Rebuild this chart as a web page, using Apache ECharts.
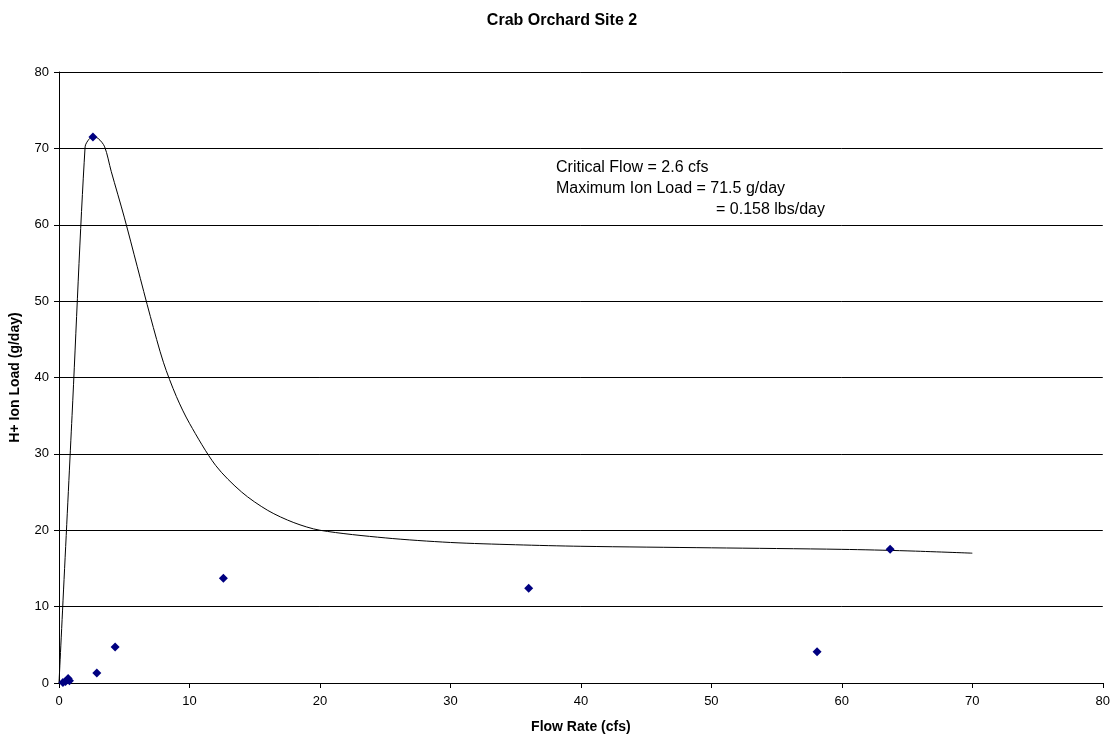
<!DOCTYPE html>
<html>
<head>
<meta charset="utf-8">
<title>Crab Orchard Site 2</title>
<script src="https://cdn.jsdelivr.net/npm/echarts@6/dist/echarts.min.js"></script>
<style>
  html, body { margin: 0; padding: 0; background: #fff; }
  #chart { width: 1113px; height: 740px; }
</style>
</head>
<body>
<div id="chart"></div>
<script>
// measured samples: [flow cfs, H+ ion load g/day]
const samples = [
  [0.3, 0.05], [0.5, 0.2], [0.7, 0.6], [0.8, 0.3],
  [2.6, 71.5], [2.9, 1.3], [4.3, 4.7], [12.6, 13.7],
  [36.0, 12.4], [58.1, 4.1], [63.7, 17.5]
];

// fitted curve
const curveX = [0, 1, 2, 2.3, 2.6, 3.0, 3.5, 4, 5, 6, 7, 8, 9, 10, 12, 14, 16, 18, 20, 25, 30, 35, 40, 50, 60, 65, 70];
const curveY = [0, 35, 70.2, 71.2, 71.5, 71.3, 70.2, 67, 61, 54.5, 48, 42, 37.5, 34, 28.5, 25, 22.6, 21, 20, 19, 18.4, 18.1, 17.9, 17.7, 17.5, 17.3, 17.0];

const noteLines = [
  "Critical Flow = 2.6 cfs",
  "Maximum Ion Load = 71.5 g/day",
  "= 0.158 lbs/day"
];

const chart = echarts.init(document.getElementById("chart"));
const font = "Liberation Sans, Arial, sans-serif";

chart.setOption({
  animation: false,
  title: {
    text: "Crab Orchard Site 2",
    left: 557,
    top: 8,
    textAlign: "center",
    textStyle: { fontFamily: font, fontSize: 16, fontWeight: "bold", color: "#000" }
  },
  grid: { left: 59, right: 8, top: 72, bottom: 57 },
  xAxis: {
    type: "value",
    min: 0,
    max: 80,
    interval: 10,
    name: "Flow Rate (cfs)",
    nameLocation: "middle",
    nameGap: 37,
    nameTextStyle: { fontFamily: font, fontSize: 14, fontWeight: "bold", color: "#000" },
    axisLine: { lineStyle: { color: "#000", width: 1 } },
    axisTick: { show: true, inside: false, length: 5, lineStyle: { color: "#000" } },
    axisLabel: { fontFamily: font, fontSize: 13, color: "#000", margin: 12 },
    splitLine: { show: false }
  },
  yAxis: {
    type: "value",
    min: 0,
    max: 80,
    interval: 10,
    name: "H+ Ion Load (g/day)",
    nameLocation: "middle",
    nameGap: 37,
    nameTextStyle: { fontFamily: font, fontSize: 14, fontWeight: "bold", color: "#000" },
    axisLine: { show: true, lineStyle: { color: "#000", width: 1 } },
    axisTick: { show: true, inside: false, length: 5, lineStyle: { color: "#000" } },
    axisLabel: { fontFamily: font, fontSize: 13, color: "#000", margin: 10 },
    splitLine: { show: true, lineStyle: { color: "#000", width: 1 } }
  },
  graphic: [
    { type: "text", left: 556, top: 160, style: { text: noteLines[0], font: "16px " + font, fill: "#000" } },
    { type: "text", left: 556, top: 181, style: { text: noteLines[1], font: "16px " + font, fill: "#000" } },
    { type: "text", left: 716, top: 202, style: { text: noteLines[2], font: "16px " + font, fill: "#000" } }
  ],
  series: [
    {
      name: "fit",
      type: "line",
      data: curveX.map((x, i) => [x, curveY[i]]),
      smooth: 0.3,
      showSymbol: false,
      lineStyle: { color: "#000", width: 1 },
      z: 2
    },
    {
      name: "samples",
      type: "scatter",
      data: samples,
      symbol: "diamond",
      symbolSize: 9,
      itemStyle: { color: "#000080", opacity: 1 },
      z: 3
    }
  ]
});
</script>
</body>
</html>
